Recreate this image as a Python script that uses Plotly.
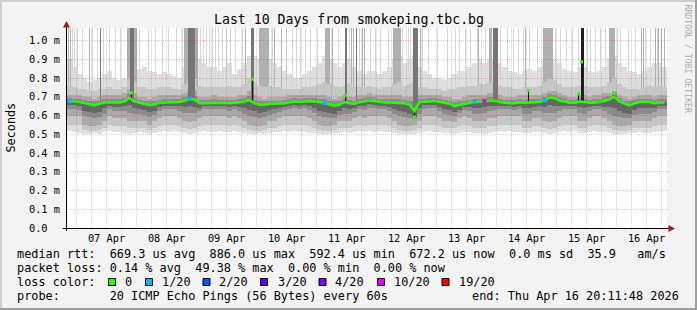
import plotly.graph_objects as go
import pandas as pd

# ---------------- data ----------------
END = pd.Timestamp("2026-04-16 20:11:48")
START = END - pd.Timedelta(days=10)
BIN = pd.Timedelta(hours=2)          # one value per 2 hours (120 bins)
STEP = pd.Timedelta(seconds=1440)    # RRD step of the 10-day view (600 rows)
Y_TOP = 1.0667                       # ms

# median rtt (ms), one per 2-hour bin
median_ms = [
    0.677, 0.675, 0.672, 0.666, 0.659, 0.654, 0.663, 0.670, 0.670, 0.670,
    0.670, 0.675, 0.693, 0.675, 0.666, 0.661, 0.656, 0.659, 0.668, 0.670,
    0.670, 0.670, 0.672, 0.679, 0.690, 0.684, 0.665, 0.665, 0.666, 0.670,
    0.668, 0.668, 0.666, 0.666, 0.670, 0.675, 0.682, 0.666, 0.657, 0.657,
    0.663, 0.663, 0.663, 0.665, 0.670, 0.675, 0.672, 0.675, 0.677, 0.675,
    0.672, 0.668, 0.659, 0.654, 0.657, 0.672, 0.665, 0.663, 0.670, 0.675,
    0.680, 0.677, 0.672, 0.670, 0.670, 0.670, 0.668, 0.666, 0.657, 0.625,
    0.672, 0.672, 0.675, 0.677, 0.672, 0.668, 0.663, 0.650, 0.657, 0.663,
    0.668, 0.672, 0.672, 0.675, 0.680, 0.679, 0.672, 0.668, 0.666, 0.666,
    0.670, 0.668, 0.670, 0.670, 0.672, 0.680, 0.696, 0.693, 0.679, 0.675,
    0.668, 0.668, 0.675, 0.672, 0.668, 0.670, 0.672, 0.679, 0.686, 0.700,
    0.675, 0.663, 0.654, 0.665, 0.672, 0.673, 0.672, 0.666, 0.670, 0.670]

# smoke envelopes (ms): lightest (1) to darkest (5) layer
smoke_lo1 = [
    0.515, 0.51, 0.505, 0.50, 0.50, 0.505, 0.50, 0.51, 0.515, 0.51,
    0.51, 0.505, 0.50, 0.505, 0.51, 0.505, 0.50, 0.505, 0.51, 0.515,
    0.51, 0.515, 0.51, 0.505, 0.50, 0.505, 0.51, 0.515, 0.51, 0.51,
    0.515, 0.51, 0.51, 0.515, 0.51, 0.505, 0.50, 0.50, 0.505, 0.50,
    0.505, 0.51, 0.51, 0.515, 0.51, 0.515, 0.51, 0.51, 0.505, 0.505,
    0.50, 0.50, 0.50, 0.505, 0.505, 0.51, 0.505, 0.51, 0.515, 0.51,
    0.515, 0.51, 0.515, 0.51, 0.51, 0.505, 0.50, 0.50, 0.50, 0.50,
    0.505, 0.51, 0.515, 0.51, 0.51, 0.505, 0.505, 0.50, 0.505, 0.51,
    0.51, 0.505, 0.505, 0.50, 0.505, 0.51, 0.515, 0.51, 0.515, 0.51,
    0.51, 0.505, 0.505, 0.51, 0.51, 0.505, 0.50, 0.505, 0.51, 0.515,
    0.51, 0.515, 0.505, 0.505, 0.51, 0.515, 0.51, 0.51, 0.505, 0.50,
    0.50, 0.50, 0.505, 0.505, 0.51, 0.505, 0.505, 0.51, 0.51, 0.515]
smoke_hi1 = [
    0.90, 0.86, 0.82, 0.80, 0.78, 0.79, 0.80, 0.82, 0.84, 0.80,
    0.79, 0.80, 0.92, 0.90, 0.85, 0.86, 0.84, 0.83, 0.82, 0.83,
    0.82, 0.81, 0.80, 0.86, 0.92, 0.92, 0.90, 0.88, 0.86, 0.86,
    0.84, 0.86, 0.88, 0.82, 0.85, 0.88, 0.92, 0.92, 0.90, 0.88,
    0.90, 0.88, 0.86, 0.84, 0.82, 0.80, 0.80, 0.82, 0.84, 0.86,
    0.88, 0.92, 0.90, 0.88, 0.86, 0.88, 0.90, 0.86, 0.84, 0.82,
    0.84, 0.84, 0.82, 0.84, 0.86, 0.90, 0.92, 0.88, 0.90, 0.92,
    0.86, 0.84, 0.82, 0.80, 0.80, 0.79, 0.80, 0.82, 0.84, 0.84,
    0.86, 0.88, 0.90, 0.88, 0.90, 0.90, 0.88, 0.86, 0.84, 0.83,
    0.82, 0.84, 0.85, 0.84, 0.86, 0.90, 0.92, 0.90, 0.88, 0.85,
    0.84, 0.83, 0.86, 0.86, 0.84, 0.83, 0.84, 0.86, 0.90, 0.92,
    0.88, 0.86, 0.84, 0.83, 0.82, 0.84, 0.86, 0.88, 0.88, 0.86]
smoke_lo2 = [
    0.55, 0.55, 0.55, 0.525, 0.52, 0.52, 0.525, 0.535, 0.55, 0.545,
    0.545, 0.545, 0.535, 0.535, 0.535, 0.535, 0.525, 0.535, 0.545, 0.55,
    0.55, 0.55, 0.545, 0.535, 0.53, 0.535, 0.545, 0.55, 0.55, 0.55,
    0.55, 0.55, 0.545, 0.55, 0.545, 0.535, 0.525, 0.52, 0.52, 0.525,
    0.535, 0.535, 0.545, 0.55, 0.55, 0.55, 0.55, 0.55, 0.545, 0.535,
    0.525, 0.52, 0.52, 0.525, 0.535, 0.535, 0.535, 0.545, 0.55, 0.545,
    0.55, 0.55, 0.55, 0.55, 0.545, 0.535, 0.525, 0.52, 0.52, 0.525,
    0.535, 0.55, 0.55, 0.55, 0.545, 0.535, 0.535, 0.535, 0.545, 0.55,
    0.545, 0.535, 0.535, 0.535, 0.545, 0.545, 0.55, 0.55, 0.55, 0.55,
    0.55, 0.535, 0.535, 0.545, 0.545, 0.535, 0.53, 0.535, 0.545, 0.55,
    0.55, 0.55, 0.535, 0.535, 0.545, 0.55, 0.55, 0.545, 0.535, 0.525,
    0.52, 0.52, 0.525, 0.535, 0.535, 0.535, 0.535, 0.545, 0.55, 0.55]
smoke_hi2 = [
    0.76, 0.75, 0.74, 0.74, 0.73, 0.73, 0.74, 0.74, 0.75, 0.74,
    0.74, 0.75, 0.80, 0.78, 0.75, 0.75, 0.74, 0.74, 0.75, 0.75,
    0.75, 0.74, 0.74, 0.77, 0.80, 0.80, 0.76, 0.75, 0.75, 0.75,
    0.75, 0.75, 0.76, 0.75, 0.75, 0.77, 0.80, 0.78, 0.76, 0.75,
    0.76, 0.75, 0.75, 0.74, 0.74, 0.74, 0.74, 0.75, 0.75, 0.76,
    0.77, 0.78, 0.77, 0.76, 0.75, 0.76, 0.77, 0.75, 0.75, 0.75,
    0.76, 0.75, 0.74, 0.75, 0.75, 0.77, 0.78, 0.76, 0.77, 0.78,
    0.75, 0.75, 0.74, 0.74, 0.74, 0.73, 0.74, 0.74, 0.75, 0.75,
    0.76, 0.76, 0.77, 0.77, 0.78, 0.78, 0.76, 0.75, 0.75, 0.74,
    0.74, 0.75, 0.75, 0.75, 0.76, 0.78, 0.80, 0.79, 0.77, 0.75,
    0.75, 0.75, 0.76, 0.76, 0.75, 0.75, 0.75, 0.76, 0.78, 0.80,
    0.77, 0.75, 0.74, 0.74, 0.74, 0.75, 0.76, 0.76, 0.76, 0.75]
smoke_lo3 = [
    0.595, 0.595, 0.595, 0.55, 0.545, 0.545, 0.55, 0.57, 0.595, 0.585,
    0.585, 0.585, 0.57, 0.57, 0.57, 0.57, 0.55, 0.57, 0.585, 0.595,
    0.595, 0.595, 0.585, 0.57, 0.565, 0.57, 0.585, 0.595, 0.595, 0.595,
    0.595, 0.595, 0.585, 0.595, 0.585, 0.57, 0.55, 0.545, 0.545, 0.55,
    0.57, 0.57, 0.585, 0.595, 0.595, 0.595, 0.595, 0.595, 0.585, 0.57,
    0.55, 0.545, 0.545, 0.55, 0.57, 0.57, 0.57, 0.585, 0.595, 0.585,
    0.595, 0.595, 0.595, 0.595, 0.585, 0.57, 0.55, 0.545, 0.545, 0.55,
    0.57, 0.595, 0.595, 0.595, 0.585, 0.57, 0.57, 0.565, 0.585, 0.595,
    0.585, 0.57, 0.57, 0.57, 0.585, 0.585, 0.595, 0.595, 0.595, 0.595,
    0.595, 0.57, 0.57, 0.585, 0.585, 0.57, 0.565, 0.57, 0.585, 0.595,
    0.595, 0.595, 0.57, 0.57, 0.585, 0.595, 0.595, 0.585, 0.57, 0.55,
    0.545, 0.545, 0.55, 0.57, 0.57, 0.57, 0.57, 0.585, 0.595, 0.595]
smoke_hi3 = [
    0.71, 0.71, 0.71, 0.70, 0.70, 0.69, 0.70, 0.71, 0.71, 0.71,
    0.71, 0.72, 0.74, 0.72, 0.70, 0.70, 0.69, 0.70, 0.71, 0.71,
    0.71, 0.71, 0.71, 0.72, 0.73, 0.73, 0.70, 0.70, 0.70, 0.71,
    0.70, 0.70, 0.70, 0.70, 0.71, 0.71, 0.73, 0.71, 0.70, 0.69,
    0.70, 0.70, 0.70, 0.70, 0.71, 0.71, 0.71, 0.71, 0.71, 0.71,
    0.71, 0.71, 0.70, 0.69, 0.70, 0.71, 0.70, 0.70, 0.71, 0.71,
    0.72, 0.71, 0.71, 0.71, 0.71, 0.71, 0.71, 0.70, 0.70, 0.70,
    0.71, 0.71, 0.71, 0.71, 0.71, 0.70, 0.70, 0.69, 0.69, 0.70,
    0.71, 0.71, 0.71, 0.71, 0.72, 0.72, 0.71, 0.70, 0.70, 0.70,
    0.71, 0.71, 0.71, 0.71, 0.71, 0.72, 0.73, 0.73, 0.72, 0.71,
    0.70, 0.70, 0.71, 0.71, 0.70, 0.71, 0.71, 0.72, 0.72, 0.73,
    0.71, 0.70, 0.69, 0.70, 0.71, 0.71, 0.71, 0.70, 0.71, 0.71]
smoke_lo4 = [
    0.635, 0.635, 0.63, 0.595, 0.59, 0.585, 0.59, 0.61, 0.635, 0.625,
    0.625, 0.625, 0.615, 0.61, 0.61, 0.605, 0.59, 0.605, 0.625, 0.635,
    0.635, 0.635, 0.625, 0.615, 0.615, 0.615, 0.625, 0.635, 0.635, 0.635,
    0.635, 0.635, 0.625, 0.635, 0.625, 0.61, 0.595, 0.59, 0.585, 0.59,
    0.605, 0.61, 0.62, 0.63, 0.635, 0.64, 0.635, 0.64, 0.63, 0.615,
    0.595, 0.59, 0.585, 0.585, 0.605, 0.61, 0.61, 0.62, 0.635, 0.63,
    0.64, 0.64, 0.635, 0.635, 0.625, 0.61, 0.595, 0.59, 0.585, 0.58,
    0.61, 0.635, 0.64, 0.64, 0.625, 0.61, 0.605, 0.60, 0.615, 0.63,
    0.625, 0.61, 0.61, 0.615, 0.625, 0.63, 0.635, 0.635, 0.635, 0.63,
    0.635, 0.61, 0.61, 0.625, 0.625, 0.615, 0.615, 0.615, 0.625, 0.635,
    0.635, 0.635, 0.615, 0.61, 0.625, 0.635, 0.635, 0.625, 0.61, 0.595,
    0.59, 0.585, 0.585, 0.605, 0.61, 0.61, 0.61, 0.62, 0.635, 0.635]
smoke_hi4 = [
    0.695, 0.69, 0.69, 0.685, 0.68, 0.675, 0.68, 0.69, 0.69, 0.69,
    0.69, 0.695, 0.715, 0.695, 0.685, 0.68, 0.675, 0.68, 0.685, 0.69,
    0.69, 0.69, 0.69, 0.70, 0.71, 0.705, 0.685, 0.685, 0.685, 0.69,
    0.685, 0.685, 0.685, 0.685, 0.69, 0.695, 0.705, 0.685, 0.675, 0.675,
    0.68, 0.68, 0.68, 0.685, 0.69, 0.695, 0.69, 0.695, 0.695, 0.695,
    0.69, 0.69, 0.68, 0.675, 0.68, 0.69, 0.685, 0.68, 0.69, 0.695,
    0.70, 0.695, 0.69, 0.69, 0.69, 0.69, 0.69, 0.685, 0.68, 0.68,
    0.69, 0.69, 0.695, 0.695, 0.69, 0.685, 0.68, 0.67, 0.675, 0.68,
    0.685, 0.69, 0.69, 0.695, 0.70, 0.70, 0.69, 0.685, 0.685, 0.685,
    0.69, 0.685, 0.69, 0.69, 0.69, 0.70, 0.715, 0.71, 0.70, 0.695,
    0.685, 0.685, 0.695, 0.69, 0.685, 0.69, 0.69, 0.70, 0.705, 0.72,
    0.695, 0.68, 0.675, 0.685, 0.69, 0.69, 0.69, 0.685, 0.69, 0.69]
smoke_lo5 = [
    0.655, 0.655, 0.65, 0.625, 0.62, 0.615, 0.62, 0.64, 0.65, 0.645,
    0.645, 0.65, 0.655, 0.64, 0.635, 0.63, 0.62, 0.625, 0.645, 0.65,
    0.65, 0.65, 0.65, 0.645, 0.65, 0.645, 0.64, 0.65, 0.65, 0.65,
    0.65, 0.65, 0.645, 0.65, 0.645, 0.64, 0.63, 0.625, 0.615, 0.62,
    0.63, 0.635, 0.64, 0.645, 0.65, 0.655, 0.65, 0.655, 0.65, 0.64,
    0.625, 0.62, 0.615, 0.61, 0.625, 0.64, 0.635, 0.64, 0.65, 0.65,
    0.66, 0.655, 0.65, 0.65, 0.645, 0.635, 0.625, 0.62, 0.61, 0.59,
    0.64, 0.655, 0.655, 0.655, 0.645, 0.635, 0.63, 0.62, 0.63, 0.645,
    0.645, 0.64, 0.64, 0.645, 0.65, 0.65, 0.65, 0.65, 0.65, 0.645,
    0.65, 0.64, 0.64, 0.645, 0.65, 0.645, 0.655, 0.65, 0.65, 0.65,
    0.65, 0.65, 0.645, 0.64, 0.645, 0.65, 0.65, 0.645, 0.645, 0.64,
    0.625, 0.615, 0.61, 0.63, 0.64, 0.64, 0.64, 0.64, 0.65, 0.65]

# outlier streaks reaching the top of the graph (RRD row index of the 10-day view)
streak_light = [5, 7, 10, 15, 25, 30, 36, 42, 48, 53, 72, 81, 88, 95, 101, 109, 115,
                133, 136, 139, 142, 145, 148, 151, 155, 159, 163, 168, 175, 205, 219,
                225, 229, 233, 238, 243, 250, 262, 271, 282, 292, 303, 308, 313, 321,
                335, 341, 343, 355, 361, 370, 380, 388, 392, 398, 403, 410, 418, 433,
                440, 446, 451, 456, 462, 470, 488, 493, 499, 505, 511, 520, 523, 528,
                533, 538, 550, 553, 561, 568, 578, 583, 590]
streak_medium = [1, 3, 22, 60, 61, 62, 67, 68, 69, 117, 118, 119, 120, 128, 129, 130,
                 178, 192, 193, 194, 195, 196, 197, 198, 199, 200, 201, 207, 214,
                 258, 259, 260, 261, 262, 265, 284, 286, 295, 297,
                 326, 327, 328, 329, 330, 331, 332, 333, 353, 411, 422, 423, 424, 458,
                 476, 477, 478, 479, 480, 481, 482, 483, 484, 485,
                 542, 543, 544, 545, 546, 547, 574, 576, 588, 591, 594, 597]
streak_dark = [33, 63, 64, 65, 66, 121, 122, 123, 124, 125, 126, 127, 184, 185, 186,
               278, 279, 289, 346, 347, 348, 349, 350, 426, 427, 428, 429, 430]
streak_black = [514, 515, 516]

# short median excursions (RRD row index, ms)
spike_rows = [64, 185, 278, 347, 461, 511, 514, 546]
spike_ms = [0.720, 0.793, 0.706, 0.592, 0.734, 0.716, 0.886, 0.716]

# bins with packet loss (bin index, lost pings out of 20)
loss_bins = [0, 24, 51, 81, 83, 95]
loss_pings = [1, 1, 1, 1, 10, 1]

loss_levels = ["0", "1/20", "2/20", "3/20", "4/20", "10/20", "19/20"]
loss_level_pings = [0, 1, 2, 3, 4, 10, 19]
loss_colors = ["#26ff00", "#00b8ff", "#0059ff", "#5e00ff", "#7e00ff", "#dd00ff", "#ff0000"]

y_tick_vals = [0.0, 0.1, 0.2, 0.3, 0.4, 0.5, 0.6, 0.7, 0.8, 0.9, 1.0]
y_tick_text = ["0.0  ", "0.1 m", "0.2 m", "0.3 m", "0.4 m", "0.5 m",
               "0.6 m", "0.7 m", "0.8 m", "0.9 m", "1.0 m"]

title_text = "Last 10 Days from smokeping.tbc.bg"
legend_rows = [
    "median rtt:  669.3 us avg  886.0 us max  592.4 us min  672.2 us now  0.0 ms sd  35.9   am/s",
    "packet loss: 0.14 % avg  49.38 % max  0.00 % min  0.00 % now",
    "loss color:",
    "probe:       20 ICMP Echo Pings (56 Bytes) every 60s",
]
end_text = "end: Thu Apr 16 20:11:48 2026"

# ---------------- helpers ----------------
FONT = "DejaVu Sans Mono"
W, H = 697, 310
L, R, T, B = 67, 30, 28, 82
PW, PH = W - L - R, H - T - B


def PX(px):
    return (px - L) / PW


def PY(py):
    return (T + PH - py) / PH


def ts(t):
    return pd.Timestamp(t).strftime("%Y-%m-%d %H:%M:%S")


def crisp_y(v):
    # value whose pixel row centre is nearest to v
    py = T + PH - v / Y_TOP * PH
    py = int(py) + 0.5
    return (T + PH - py) / PH * Y_TOP


nb = len(median_ms)
bin_t = [ts(START + BIN * (k + 0.5)) for k in range(nb)]
bin_w = BIN.total_seconds() * 1000
step_w = STEP.total_seconds() * 1000
rows_per_bin = int(BIN / STEP)


def row_t(i):
    return ts(START + STEP * (i + 0.5))


fig = go.Figure()


def band(lo, hi, color):
    fig.add_trace(go.Bar(x=bin_t, base=lo, y=[h - l for l, h in zip(lo, hi)],
                         width=bin_w, marker=dict(color=color, line=dict(width=0)),
                         opacity=1, hoverinfo="skip", showlegend=False))


def streaks(rows, color):
    base = [median_ms[min(i // rows_per_bin, nb - 1)] for i in rows]
    fig.add_trace(go.Bar(x=[row_t(i) for i in rows], base=base,
                         y=[Y_TOP + 0.1 - b for b in base], width=step_w,
                         marker=dict(color=color, line=dict(width=0)),
                         opacity=1, hoverinfo="skip", showlegend=False))


band(smoke_lo1, smoke_hi1, "#dedede")
streaks(streak_light, "#d6d6d6")
streaks(streak_medium, "#b0b0b0")
band(smoke_lo2, smoke_hi2, "#c6c6c6")
band(smoke_lo3, smoke_hi3, "#a9a9a9")
band(smoke_lo4, smoke_hi4, "#8b8b8b")
band(smoke_lo5, median_ms, "#666666")
streaks(streak_dark, "#767676")
streaks(streak_black, "#1e1e1e")

# spikes: dark bar from bin median to excursion value
sp_base = [min(median_ms[i // rows_per_bin], v) for i, v in zip(spike_rows, spike_ms)]
sp_h = [abs(v - median_ms[i // rows_per_bin]) for i, v in zip(spike_rows, spike_ms)]
fig.add_trace(go.Bar(x=[row_t(i) for i in spike_rows], base=sp_base, y=sp_h, width=step_w,
                     marker=dict(color="#1a1a1a", line=dict(width=0)), opacity=1,
                     hoverinfo="skip", showlegend=False))

# median line
fig.add_trace(go.Scatter(x=bin_t, y=median_ms, mode="lines",
                         line=dict(color=loss_colors[0], width=2.5),
                         hoverinfo="skip", showlegend=False))
fig.add_trace(go.Scatter(x=[row_t(i) for i in spike_rows], y=spike_ms, mode="markers",
                         marker=dict(symbol="square", size=3, color=loss_colors[0],
                                     line=dict(width=0)),
                         hoverinfo="skip", showlegend=False))


def loss_color(n):
    c = loss_colors[0]
    for lv, col in zip(loss_level_pings, loss_colors):
        if n >= lv:
            c = col
    return c


fig.add_trace(go.Scatter(x=[bin_t[k] for k in loss_bins], y=[median_ms[k] for k in loss_bins],
                         mode="markers",
                         marker=dict(symbol="square", size=4,
                                     color=[loss_color(n) for n in loss_pings],
                                     line=dict(width=0)),
                         hoverinfo="skip", showlegend=False))

shapes = []
MGRID = "rgba(225,50,50,0.30)"
GRID = "rgba(120,120,120,0.34)"
# horizontal major grid
for v in y_tick_vals[1:]:
    cv = crisp_y(v)
    shapes.append(dict(type="line", xref="paper", yref="y", x0=0, x1=PX(669.5), y0=cv, y1=cv,
                       line=dict(color=MGRID, width=1, dash="1px,1px"), layer="above"))
# vertical grid
for t in pd.date_range(START.ceil("6h"), END, freq="6h"):
    major = (t.hour == 0)
    shapes.append(dict(type="line", xref="x", yref="paper", x0=ts(t), x1=ts(t),
                       y0=PY(231 if major else 230), y1=1,
                       line=dict(color=MGRID if major else GRID, width=1, dash="1px,1px"),
                       layer="above"))
# axis lines
shapes.append(dict(type="line", xref="paper", yref="paper", x0=PX(66.5), x1=PX(66.5),
                   y0=PY(231), y1=PY(26), line=dict(color="#000", width=1), layer="above"))
shapes.append(dict(type="line", xref="paper", yref="paper", x0=PX(62.5), x1=PX(669),
                   y0=PY(228.5), y1=PY(228.5), line=dict(color="#000", width=1), layer="above"))
# arrows
ARROW = "#9b1c1c"
shapes.append(dict(type="path", xref="paper", yref="paper",
                   path=f"M {PX(66.5)},{PY(21)} L {PX(63)},{PY(27.5)} L {PX(70)},{PY(27.5)} Z",
                   fillcolor=ARROW, line=dict(width=0), layer="above"))
shapes.append(dict(type="path", xref="paper", yref="paper",
                   path=f"M {PX(675)},{PY(228.5)} L {PX(668.5)},{PY(225)} L {PX(668.5)},{PY(232)} Z",
                   fillcolor=ARROW, line=dict(width=0), layer="above"))
# frame
for (x0, y0, x1, y1, c) in [(0, 0, W, 2, "#cfcfcf"), (0, 0, 2, H, "#cfcfcf"),
                            (0, H - 2, W, H, "#9e9e9e"), (W - 2, 0, W, H, "#9e9e9e")]:
    shapes.append(dict(type="rect", xref="paper", yref="paper", x0=PX(x0), x1=PX(x1),
                       y0=PY(y1), y1=PY(y0), fillcolor=c, line=dict(width=0), layer="below"))

# loss colour legend boxes
box_left = [108.5, 145.5, 203, 260.5, 319, 377.5, 442]
lab_left = [122.5, 159.5, 216.5, 275.5, 333, 392, 456.5]
for bx, c in zip(box_left, loss_colors):
    shapes.append(dict(type="rect", xref="paper", yref="paper", x0=PX(bx), x1=PX(bx + 7),
                       y0=PY(285.5), y1=PY(278.5), fillcolor=c,
                       line=dict(color="#000", width=1), layer="above"))

NB = "\u00a0"
ann = []
ann.append(dict(text=title_text, x=PX(348.5), y=PY(19.5), xref="paper", yref="paper",
                xanchor="center", yanchor="middle", showarrow=False,
                font=dict(family=FONT, size=13.2, color="#000")))
ann.append(dict(text="Seconds", x=PX(10.5), y=PY(128), xref="paper", yref="paper",
                xanchor="center", yanchor="middle", showarrow=False, textangle=-90,
                font=dict(family=FONT, size=11.8, color="#000")))
ann.append(dict(text="RRDTOOL / TOBI OETIKER", x=PX(687.5), y=PY(59), xref="paper", yref="paper",
                xanchor="center", yanchor="middle", showarrow=False, textangle=90,
                font=dict(family=FONT, size=8.2, color="#ababab")))
row_y = [254.3, 268.3, 282.3, 296.3]
for txt, yy in zip(legend_rows, row_y):
    ann.append(dict(text=txt.replace(" ", NB), x=PX(15), y=PY(yy), xref="paper", yref="paper",
                    xanchor="left", yanchor="middle", showarrow=False,
                    font=dict(family=FONT, size=11.85, color="#000")))
ann.append(dict(text=end_text.replace(" ", NB), x=PX(681), y=PY(296.3), xref="paper", yref="paper",
                xanchor="right", yanchor="middle", showarrow=False,
                font=dict(family=FONT, size=11.85, color="#000")))
for lx, lab in zip(lab_left, loss_levels):
    ann.append(dict(text=lab, x=PX(lx), y=PY(282.3), xref="paper", yref="paper",
                    xanchor="left", yanchor="middle", showarrow=False,
                    font=dict(family=FONT, size=11.85, color="#000")))

fig.update_layout(
    width=W, height=H, margin=dict(l=L, r=R, t=T, b=B),
    paper_bgcolor="#f3f3f3", plot_bgcolor="#ffffff",
    barmode="overlay", bargap=0, showlegend=False, hovermode=False,
    font=dict(family=FONT, size=10.3, color="#000"),
    shapes=shapes, annotations=ann,
)
fig.update_xaxes(type="date", range=[ts(START), ts(END)], showgrid=False, zeroline=False,
                 showline=False, tick0="2026-04-07", dtick=86400000, tickformat="%d %b",
                 ticklabelmode="period", ticks="outside", ticklen=1,
                 tickcolor="rgba(0,0,0,0)", tickfont=dict(family=FONT, size=10.3, color="#000"),
                 fixedrange=True)
fig.update_yaxes(range=[0, Y_TOP], tickmode="array", tickvals=y_tick_vals,
                 ticktext=[t.replace(" ", NB) for t in y_tick_text],
                 showgrid=False, zeroline=False, showline=False, ticks="outside", ticklen=4,
                 tickcolor="rgba(0,0,0,0)", tickfont=dict(family=FONT, size=10.3, color="#000"),
                 fixedrange=True)

fig.write_html("out.html", config={"displayModeBar": False})
